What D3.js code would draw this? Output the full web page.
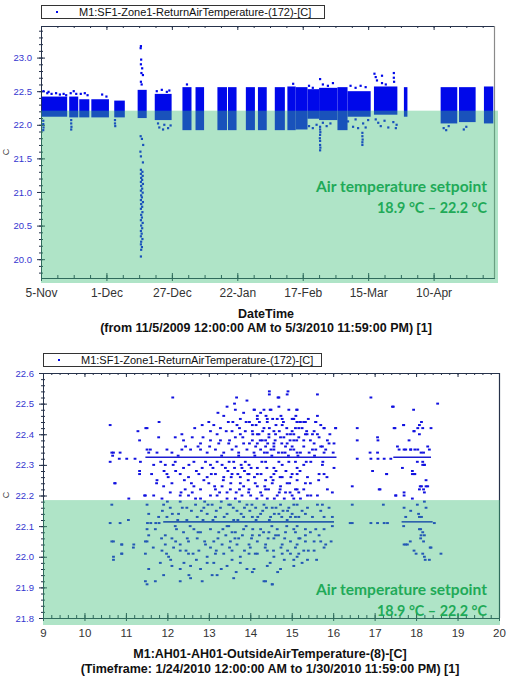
<!DOCTYPE html>
<html><head><meta charset="utf-8">
<script src="https://cdn.jsdelivr.net/npm/d3@7"></script>
<style>body{margin:0;background:#fff}svg{display:block}</style>
</head><body>
<svg id="c" width="519" height="682"></svg>
<script>
// ---------------- DATA ----------------
const legendName = "M1:SF1-Zone1-ReturnAirTemperature-(172)-[C]";
const yAxisName = "C";
const setpointText = ["Air temperature setpoint", "18.9 °C – 22.2 °C"];

// Top panel: time series (x = days since 5-Nov-2009)
const topXTickDays = [0, 26, 52, 78, 104, 130, 156];
const topXTickLabels = ["5-Nov", "1-Dec", "27-Dec", "22-Jan", "17-Feb", "15-Mar", "10-Apr"];
const topYTicks = [20.0, 20.5, 21.0, 21.5, 22.0, 22.5, 23.0];
const topXTitle = "DateTime";
const topXSub = "(from 11/5/2009 12:00:00 AM to 5/3/2010 11:59:00 PM) [1]";
// dense clusters of readings: [startDay, endDay, low, high]
const topBlocks = [
  [0.3, 10.4, 22.12, 22.42], [11.2, 14.8, 22.11, 22.42], [15.2, 19.2, 22.11, 22.38],
  [20.0, 27.0, 22.11, 22.38], [29.1, 33.3, 22.11, 22.36], [38.4, 42.0, 22.10, 22.52],
  [45.2, 51.9, 22.07, 22.46], [56.2, 59.8, 21.92, 22.56], [61.4, 64.8, 21.92, 22.56],
  [70.1, 73.9, 21.92, 22.56], [74.3, 77.7, 21.92, 22.56], [81.4, 85.0, 21.92, 22.56],
  [86.2, 89.7, 21.92, 22.56], [92.9, 96.9, 21.92, 22.56], [97.9, 101.2, 21.92, 22.57],
  [101.2, 105.9, 21.93, 22.56], [105.9, 110.5, 22.09, 22.53], [110.5, 117.8, 22.07, 22.55],
  [117.8, 121.8, 21.92, 22.56], [121.8, 131.0, 22.12, 22.50], [132.3, 141.6, 22.15, 22.57],
  [144.2, 145.6, 22.12, 22.56], [158.8, 165.4, 22.02, 22.56], [166.1, 172.7, 22.04, 22.56],
  [176.0, 179.7, 22.02, 22.57]
];
// individual readings outside the dense clusters: [day, value]
const topPoints = [
  [0.9,22.06],[0.9,22.01],[1.0,21.96],[0.9,21.92],[1.0,22.50],[2.5,22.47],[3.0,22.49],[4.2,22.46],
  [6.0,22.47],[7.5,22.45],[9.0,22.46],[10.0,22.44],[11.8,22.47],[13.0,22.50],[14.0,22.46],
  [12.0,22.07],[12.0,22.02],[12.1,21.97],[12.0,21.93],[15.8,22.46],[17.4,22.47],[18.5,22.44],
  [24.3,22.45],[26.0,22.42],[29.4,22.07],[29.4,22.02],[29.5,21.98],
  [39.7,23.17],[39.6,23.14],[39.8,22.97],[39.7,22.90],[40.2,22.84],[39.9,22.77],[40.5,22.74],
  [39.7,22.64],[40.0,22.60],[39.6,21.83],[40.1,21.79],[40.6,21.70],[39.5,21.60],[39.7,21.53],
  [40.5,21.44],[39.7,21.33],[40.3,21.30],[39.7,21.27],[40.4,21.24],[39.8,21.21],[40.2,21.18],
  [39.7,21.15],[40.5,21.12],[39.8,21.09],[40.2,21.05],[39.7,21.02],[40.4,20.99],[39.8,20.95],
  [40.1,20.92],[39.7,20.88],[40.5,20.85],[39.8,20.82],[40.2,20.78],[39.7,20.75],[40.3,20.70],
  [39.8,20.66],[40.1,20.62],[39.7,20.58],[40.4,20.54],[39.8,20.50],[40.2,20.46],[39.7,20.42],
  [40.0,20.38],[39.7,20.34],[40.3,20.30],[39.8,20.26],[39.7,20.22],[40.1,20.18],[39.8,20.14],
  [39.7,20.04],
  [46.0,22.50],[48.0,22.52],[50.0,22.49],[51.0,22.51],[46.5,22.02],[47.0,21.96],[48.5,21.93],
  [50.5,21.95],[51.5,21.99],[49.0,22.00],[58.0,22.60],[100.2,22.61],
  [110.9,22.68],[110.9,21.97],[110.9,21.93],[111.0,21.89],[110.9,21.85],[110.8,21.80],
  [110.9,21.76],[110.9,21.70],[111.0,21.66],[110.9,21.62],
  [127.7,21.88],[127.7,21.83],[127.8,21.78],[127.7,21.74],[127.7,21.70],
  [132.5,22.76],[133.0,22.71],[133.5,22.66],[135.5,22.73],[135.5,22.62],[140.2,22.77],
  [140.2,22.70],[140.3,22.64],[137.0,22.60],[133.0,22.08],[134.0,22.03],[135.0,21.98],
  [136.5,22.06],[138.0,21.96],[140.0,22.04],[141.0,21.95],[141.3,22.00],
  [123.0,22.58],[125.0,22.55],[127.0,22.58],[129.0,22.56],[122.0,22.05],[124.0,21.97],
  [125.0,22.08],[126.0,21.95],[128.0,22.02],[129.0,21.96],[130.0,22.07],
  [106.5,22.58],[108.0,22.55],[106.5,21.98],[108.0,21.95],[109.5,22.00],
  [112.0,22.60],[114.0,22.58],[116.0,22.62],[112.0,22.03],[113.5,21.98],[115.0,22.02],
  [160.0,21.95],[161.0,21.92],[162.0,21.98],[168.0,21.93],[169.0,21.97]
];

// Bottom panel: scatter vs outside air temperature
const bottomXTicks = [9, 10, 11, 12, 13, 14, 15, 16, 17, 18, 19, 20];
const bottomYTicks = [21.8, 21.9, 22.0, 22.1, 22.2, 22.3, 22.4, 22.5, 22.6];
const bottomXTitle = "M1:AH01-AH01-OutsideAirTemperature-(8)-[C]";
const bottomXSub = "(Timeframe: 1/24/2010 12:00:00 AM to 1/30/2010 11:59:00 PM) [1]";
// runs of many coincident readings: [xStart, xEnd, value]
const bottomRows = [[11.47, 16.08, 22.325], [17.45, 18.36, 22.325], [11.90, 16.02, 22.114], [17.65, 18.40, 22.114]];
const bottomPoints = [
[12.13,22.52],[13.67,22.52],[13.62,22.50],[13.92,22.51],[14.46,22.53],[14.67,22.52],[14.89,22.53],
[13.44,22.49],[13.64,22.48],[14.10,22.48],[14.25,22.47],[14.48,22.48],[14.69,22.49],[13.22,22.47],[13.84,22.47],
[10.62,22.43],[11.80,22.44],[13.00,22.44],[13.36,22.46],[13.47,22.44],[13.76,22.45],[13.98,22.44],[14.17,22.45],[14.41,22.44],[14.74,22.46],[15.04,22.45],[15.13,22.44],
[11.29,22.41],[12.35,22.40],[12.84,22.43],[13.04,22.41],[13.20,22.40],[13.28,22.42],[13.56,22.41],[13.68,22.43],[13.76,22.40],[13.88,22.41],[14.05,22.43],[14.17,22.40],[14.33,22.42],[14.45,22.40],[14.57,22.41],[14.77,22.43],[14.89,22.40],[15.01,22.41],[15.17,22.42],[11.51,22.42],
[11.33,22.38],[11.79,22.39],[12.19,22.39],[12.39,22.38],[12.60,22.39],[12.80,22.37],[13.04,22.38],[13.28,22.38],[13.48,22.37],[13.64,22.39],[13.84,22.37],[14.05,22.38],[14.17,22.37],[14.37,22.38],[14.57,22.37],[14.73,22.39],[14.89,22.37],[15.05,22.38],
[10.70,22.34],[10.86,22.34],[11.59,22.35],[11.75,22.34],[11.99,22.35],[12.11,22.34],[12.35,22.35],[12.56,22.35],[12.80,22.35],[12.96,22.34],[13.16,22.35],[13.36,22.34],[13.56,22.35],[13.72,22.34],[13.92,22.35],[14.09,22.34],[14.25,22.35],[14.41,22.34],[14.57,22.35],[14.77,22.34],[14.97,22.35],[15.13,22.34],
[10.62,22.31],[11.35,22.31],[11.67,22.30],[11.95,22.30],[12.19,22.31],[12.39,22.29],[12.64,22.31],[12.84,22.29],[13.04,22.30],[13.20,22.31],[13.40,22.29],[13.60,22.31],[13.80,22.29],[13.97,22.30],[14.17,22.29],[14.37,22.31],[14.57,22.29],[14.77,22.30],[14.93,22.31],[15.13,22.29],
[11.33,22.27],[11.99,22.27],[12.31,22.27],[12.51,22.26],[12.76,22.27],[12.96,22.26],[13.16,22.27],[13.36,22.26],[13.56,22.27],[13.76,22.26],[13.97,22.27],[14.17,22.27],[14.37,22.25],[14.57,22.27],[14.77,22.26],[15.01,22.27],
[10.73,22.24],[11.75,22.25],[11.91,22.23],[12.11,22.24],[12.43,22.22],[12.64,22.23],[12.80,22.22],[13.00,22.24],[13.16,22.22],[13.32,22.23],[13.52,22.22],[13.76,22.24],[13.84,22.23],[13.97,22.22],[14.17,22.23],[14.37,22.22],[14.53,22.24],[14.73,22.23],[14.89,22.24],[15.13,22.22],
[11.07,22.19],[11.47,22.20],[11.67,22.20],[11.87,22.19],[12.07,22.21],[12.31,22.20],[12.51,22.20],[12.80,22.19],[13.04,22.20],[13.20,22.20],[13.44,22.21],[13.64,22.19],[13.80,22.20],[14.01,22.20],[14.25,22.21],[14.41,22.19],[14.65,22.20],[14.85,22.21],[15.05,22.19],
[10.66,22.17],[11.51,22.17],[11.91,22.17],[12.07,22.16],[12.31,22.18],[12.47,22.16],[12.68,22.17],[12.88,22.16],[13.08,22.17],[13.28,22.16],[13.48,22.17],[13.68,22.15],[13.92,22.17],[14.13,22.16],[14.33,22.17],[14.53,22.16],[14.73,22.17],[14.93,22.16],[15.13,22.17],
[11.55,22.14],[11.79,22.13],[11.99,22.13],[12.27,22.14],[12.47,22.12],[12.72,22.13],[12.96,22.14],[13.16,22.13],[13.44,22.14],[13.60,22.12],[13.84,22.13],[14.05,22.13],[14.25,22.14],[14.49,22.13],[14.69,22.14],[14.89,22.12],[15.09,22.13],
[10.62,22.11],[10.86,22.11],[11.06,22.12],[11.52,22.11],[11.60,22.11],[11.72,22.11],[11.80,22.11],
[11.51,22.09],[11.71,22.09],[11.95,22.07],[12.19,22.10],[12.39,22.08],[12.64,22.09],[12.80,22.08],[13.04,22.09],[13.24,22.08],[13.44,22.10],[13.64,22.08],[13.84,22.09],[14.05,22.07],[14.25,22.09],[14.45,22.08],[14.65,22.09],[14.85,22.08],[15.05,22.09],
[10.70,22.05],[10.90,22.04],[11.19,22.04],[11.51,22.05],[11.95,22.04],[12.11,22.06],[12.31,22.04],[12.51,22.05],[12.72,22.06],[12.92,22.04],[13.12,22.05],[13.32,22.04],[13.52,22.05],[13.72,22.06],[13.97,22.04],[14.17,22.05],[14.37,22.04],[14.57,22.06],[14.77,22.04],[14.97,22.05],[15.17,22.06],
[10.70,22.00],[10.90,22.01],[11.47,22.01],[11.87,22.02],[12.03,22.00],[12.31,22.02],[12.51,22.01],[12.76,22.02],[12.96,22.00],[13.16,22.01],[13.36,22.01],[13.56,22.02],[13.76,22.00],[13.97,22.01],[14.17,22.01],[14.41,22.02],[14.57,22.00],[14.77,22.01],[14.97,22.01],
[11.55,21.96],[11.83,21.98],[12.11,21.97],[12.31,21.96],[12.56,21.97],[12.80,21.96],[13.12,21.98],[13.44,21.97],[13.76,21.98],[14.09,21.96],[14.41,21.97],[14.73,21.96],[15.05,21.97],
[11.47,21.92],[11.51,21.91],[11.71,21.92],[11.91,21.94],[12.31,21.92],[12.56,21.93],[12.84,21.92],[13.20,21.94],[13.60,21.93],[14.05,21.95],[14.37,21.92],[14.53,21.91],
[15.62,22.53],[16.91,22.52],[18.52,22.50],[17.43,22.49],[17.94,22.48],[15.12,22.48],[15.62,22.46],
[15.01,22.45],[15.13,22.44],[15.29,22.44],[15.09,22.42],[15.36,22.41],[15.58,22.44],[15.54,22.41],[15.78,22.42],[15.92,22.40],[16.06,22.42],[16.58,22.42],[17.47,22.42],[17.70,22.43],[17.95,22.41],[18.08,22.43],[18.13,22.44],[18.36,22.42],[15.33,22.40],[15.05,22.40],[15.62,22.40],
[17.83,22.38],[18.08,22.40],[16.58,22.38],[17.08,22.38],[16.02,22.37],[15.12,22.38],[15.29,22.38],[15.54,22.37],[15.74,22.36],[15.82,22.35],
[15.05,22.35],[15.21,22.34],[15.42,22.34],[15.58,22.35],[15.78,22.34],[16.00,22.34],[16.89,22.34],[17.07,22.34],[17.59,22.35],[17.75,22.35],[17.87,22.35],[17.97,22.35],[18.12,22.34],[18.18,22.34],[18.32,22.35],
[16.58,22.32],[16.91,22.32],[17.08,22.32],[17.23,22.32],[17.39,22.32],
[16.95,22.28],[17.67,22.29],[18.03,22.31],[18.16,22.31],[18.20,22.30],[16.02,22.29],[15.09,22.31],[15.29,22.30],[15.46,22.31],[15.74,22.30],
[17.29,22.27],[17.97,22.27],[17.91,22.27],[15.13,22.27],[15.38,22.26],[15.66,22.27],[15.78,22.27],
[16.46,22.23],[17.13,22.22],[17.51,22.20],[17.71,22.21],[18.10,22.23],[18.18,22.22],[18.28,22.23],[18.24,22.25],[15.13,22.25],[15.33,22.24],[15.09,22.22],[15.29,22.22],[15.46,22.20],[15.17,22.21],[15.86,22.22],[15.98,22.21],[15.62,22.20],
[17.91,22.19],[15.01,22.20],[15.21,22.19],[15.38,22.20],
[16.46,22.17],[17.21,22.17],[17.71,22.16],[18.03,22.17],[17.87,22.15],[18.20,22.18],[18.24,22.16],[15.05,22.17],[15.38,22.16],[15.62,22.17],[15.74,22.17],
[17.75,22.13],[18.06,22.14],[18.08,22.13],[18.13,22.13],[15.01,22.14],[15.17,22.13],[15.33,22.14],[15.78,22.13],[15.98,22.13],
[16.41,22.11],[16.46,22.11],[16.91,22.11],[17.07,22.11],[17.23,22.11],[17.31,22.11],[18.44,22.11],
[17.70,22.10],[18.08,22.09],[18.16,22.08],[18.12,22.07],[18.20,22.07],[15.13,22.10],[15.33,22.09],[15.58,22.09],[15.78,22.09],[15.98,22.10],[15.09,22.08],[15.33,22.07],[15.66,22.07],
[17.75,22.04],[17.86,22.05],[18.18,22.05],[18.34,22.03],[17.95,22.02],[18.60,22.01],[15.13,22.04],[15.33,22.05],[15.54,22.05],[15.82,22.04],[15.09,22.03],[15.29,22.02],[15.54,22.02],[15.78,22.03],[15.17,22.01],
[18.20,22.00],[18.32,21.99],[15.13,22.00],[15.38,21.99],[15.25,21.98],[15.05,21.99],
[14.46,22.54],[14.91,22.54],[14.69,22.52],[17.45,22.49],[15.13,22.48],[14.09,22.48],[14.33,22.48],[14.50,22.48],[14.93,22.48],
[14.17,22.46],[14.41,22.45],[14.65,22.45],[14.77,22.45],[15.05,22.45],[15.21,22.44],[15.33,22.44],[15.58,22.44],
[17.49,22.42],[17.70,22.43],[17.95,22.41],[18.04,22.42],[18.16,22.42],[16.06,22.42],[15.78,22.42],
[14.05,22.41],[14.21,22.40],[14.29,22.38],[14.45,22.39],[14.61,22.40],[14.81,22.39],[14.97,22.40],[15.17,22.39],[15.37,22.40],[15.45,22.38],[15.66,22.39],[15.86,22.38],
[14.13,22.36],[14.37,22.36],[14.57,22.36],[14.85,22.36],[15.01,22.36],[15.29,22.36],[15.50,22.35],[15.70,22.36],[15.90,22.37],
[17.07,22.39],[17.55,22.36],[17.71,22.35],[17.87,22.35],[18.04,22.35],[18.28,22.36],
[17.29,22.27],[17.95,22.27],[17.91,22.28],[18.20,22.30],[18.16,22.30],
[17.11,22.22],[18.13,22.23],[18.24,22.23],[18.08,22.22],[17.51,22.20],[17.71,22.20],[18.20,22.21],
[10.66,22.34],[10.68,22.33],[10.84,22.32],[11.02,22.32],[11.22,22.32],[11.48,22.42],[10.74,22.24],[11.33,22.28],[11.45,22.20],[11.51,22.35],[11.55,22.34],
[10.66,22.05],[10.90,22.04],[10.70,21.99],[10.90,22.01],[11.18,22.03],[11.47,22.05],[11.55,22.07],
[14.33,21.92],[14.53,21.91],[18.16,22.01],[18.22,21.99],[17.71,22.04],[17.79,22.04],[18.00,22.01],[18.36,22.03],[18.11,22.09],[18.11,22.06],
[13.10,22.29],[13.31,22.33],[13.49,22.31],[13.72,22.33],[13.88,22.31],[14.11,22.33],[14.28,22.31],[14.52,22.33],[14.69,22.31],[14.92,22.33],
[13.14,22.23],[13.35,22.25],[13.53,22.24],[13.74,22.22],[13.95,22.25],[14.12,22.24],[14.35,22.23],[14.55,22.25],[14.72,22.22],[14.95,22.24],
[13.18,22.15],[13.37,22.13],[13.59,22.16],[13.78,22.14],[13.99,22.15],[14.18,22.13],[14.39,22.16],[14.58,22.14],[14.79,22.15],[14.97,22.13],
[13.22,22.06],[13.41,22.07],[13.63,22.06],[13.81,22.07],[14.03,22.06],[14.22,22.07],[14.43,22.06],[14.61,22.07],[14.83,22.06],
[12.20,22.28],[12.41,22.25],[12.60,22.21],[12.90,22.18],[12.25,22.12],[12.55,22.10],[12.86,22.12],[12.15,22.03],[12.45,22.02],[12.70,21.99],
[11.84,22.31],[11.92,22.28],[12.02,22.26],[12.14,22.30],[12.26,22.33],[12.33,22.21],[12.44,22.36],[12.52,22.30],[12.58,22.24],[11.88,22.15],[12.00,22.18],[12.12,22.14],[12.22,22.09],[12.36,22.16],[12.48,22.06],[12.58,22.15],[11.86,22.06],[11.98,22.01],[12.08,21.99],[12.20,22.05],[12.40,21.98],[12.52,21.94],[11.66,22.03],[11.74,22.24],[11.62,22.27],
[12.66,22.42],[12.74,22.36],[12.86,22.39],[12.92,22.31],[13.02,22.36],[13.12,22.43],[13.24,22.37],[13.32,22.30],[12.70,22.28],[12.88,22.25],[13.06,22.27],[13.26,22.21],[12.68,22.19],[12.82,22.15],[12.98,22.17],[13.10,22.12],[13.30,22.18],[12.74,22.08],[12.90,22.05],[13.04,22.03],[13.18,22.02],[13.34,22.09],[12.62,22.01],[12.96,21.98],[13.30,21.96],[13.08,21.94],
[13.42,22.41],[13.50,22.38],[13.58,22.44],[13.66,22.36],[13.74,22.42],[13.82,22.39],[13.90,22.44],[13.98,22.37],[14.06,22.40],[14.14,22.43],[13.46,22.28],[13.54,22.26],[13.62,22.29],[13.70,22.27],[13.78,22.30],[13.86,22.28],[13.94,22.27],[14.02,22.29],[14.10,22.26],[13.44,22.19],[13.52,22.17],[13.66,22.21],[13.74,22.18],[13.86,22.16],[13.96,22.21],[14.04,22.17],[14.16,22.19],[13.48,22.10],[13.56,22.08],[13.70,22.12],[13.90,22.10],[14.06,22.09],[14.14,22.12],[13.50,22.03],[13.68,22.04],[13.86,22.02],[14.00,22.03],[14.12,22.01],[13.56,21.99],[13.92,21.96],[13.66,21.95],
[14.22,22.44],[14.30,22.41],[14.38,22.46],[14.46,22.42],[14.54,22.45],[14.62,22.43],[14.70,22.41],[14.80,22.44],[14.88,22.42],[14.24,22.38],[14.34,22.34],[14.42,22.37],[14.50,22.35],[14.60,22.38],[14.68,22.34],[14.76,22.37],[14.84,22.34],[14.96,22.38],[14.26,22.27],[14.40,22.29],[14.50,22.26],[14.62,22.28],[14.72,22.26],[14.86,22.28],[14.98,22.26],[14.28,22.20],[14.44,22.22],[14.58,22.19],[14.70,22.21],[14.82,22.19],[14.96,22.21],[14.30,22.15],[14.46,22.12],[14.62,22.16],[14.76,22.13],[14.90,22.15],[14.32,22.08],[14.52,22.10],[14.68,22.07],[14.88,22.10],[14.36,22.03],[14.56,22.02],[14.74,22.03],[14.90,22.02],[14.48,21.98],[14.82,21.99],[14.66,21.95],
[15.10,22.46],[15.25,22.42],[15.40,22.45],[15.50,22.40],[15.70,22.43],[15.15,22.33],[15.35,22.31],[15.55,22.33],[15.75,22.31],[15.20,22.28],[15.45,22.24],[15.65,22.25],[15.85,22.26],[15.25,22.15],[15.50,22.13],[15.70,22.15],[15.90,22.16],[15.20,22.06],[15.45,22.08],[15.70,22.05],[15.40,22.02],[15.60,21.99],[15.95,22.05]
];
// setpoint-band top edge as shaded in each panel
const shadeTop = [22.21, 22.185];

// ---------------- DRAW ----------------
const svg = d3.select("#c");
const FONT = "'Liberation Sans', Arial, sans-serif";
const AX = "#26324a";
const BLUE = "#0008ea";
const SHADE = "rgb(60,190,120)", SHADE_OP = 0.41;
const GREEN_TXT = "#1faa58";

function legend(x, y, w) {
  const g = svg.append("g");
  g.append("rect").attr("x", x + 0.5).attr("y", y + 0.5).attr("width", w).attr("height", 13)
    .attr("fill", "#fff").attr("stroke", "#333");
  g.append("rect").attr("x", x + 15).attr("y", y + 6).attr("width", 2).attr("height", 2).attr("fill", BLUE);
  g.append("text").attr("x", x + 38).attr("y", y + 11).attr("font-family", FONT).attr("font-size", 11)
    .attr("fill", "#111").text(legendName);
}

function axes(P, x, y, xTicks, xFmt, xMinor, yTicks, yFmt, yMinor, xFs, yFs, xPad, yPad, rightColor) {
  const style = g => {
    g.selectAll(".domain").attr("stroke", AX);
    g.selectAll(".tick line").attr("stroke", AX);
  };
  const gl = svg.append("g").attr("transform", `translate(${P.l},0)`);
  gl.call(d3.axisLeft(y).tickValues(yTicks).tickFormat(yFmt).tickSize(4).tickSizeOuter(0).tickPadding(yPad)).call(style);
  gl.selectAll("text").attr("font-family", FONT).attr("font-size", yFs).attr("fill", "#3535d0");
  gl.append("g").call(d3.axisRight(y).tickValues(yTicks).tickFormat("").tickSize(4).tickSizeOuter(0)).call(style);
  gl.append("g").call(d3.axisLeft(y).tickValues(yMinor).tickFormat("").tickSize(2).tickSizeOuter(0)).call(style);
  gl.append("g").call(d3.axisRight(y).tickValues(yMinor).tickFormat("").tickSize(2).tickSizeOuter(0)).call(style);
  const gb = svg.append("g").attr("transform", `translate(0,${P.b})`);
  gb.call(d3.axisBottom(x).tickValues(xTicks).tickFormat(xFmt).tickSize(3).tickSizeOuter(0).tickPadding(xPad)).call(style);
  gb.selectAll("text").attr("font-family", FONT).attr("font-size", xFs).attr("fill", "#333");
  gb.append("g").call(d3.axisTop(x).tickValues(xTicks).tickFormat("").tickSize(5).tickSizeOuter(0)).call(style);
  gb.append("g").call(d3.axisTop(x).tickValues(xMinor).tickFormat("").tickSize(3).tickSizeOuter(0)).call(style);
  gb.append("g").call(d3.axisBottom(x).tickValues(xMinor).tickFormat("").tickSize(1).tickSizeOuter(0)).call(style);
  const gt = svg.append("g").attr("transform", `translate(0,${P.t})`);
  gt.call(d3.axisBottom(x).tickValues(xTicks).tickFormat("").tickSize(4).tickSizeOuter(0)).call(style);
  gt.append("g").call(d3.axisBottom(x).tickValues(xMinor).tickFormat("").tickSize(2).tickSizeOuter(0)).call(style);
  svg.append("line").attr("x1", P.r + 0.5).attr("x2", P.r + 0.5).attr("y1", P.t).attr("y2", P.b)
    .attr("stroke", rightColor).attr("stroke-width", 1.2);
}

function shade(P, yTopPx, extraR, extraB) {
  svg.append("rect").attr("x", P.l).attr("y", yTopPx).attr("width", P.r - P.l + extraR)
    .attr("height", P.b + extraB - yTopPx).attr("fill", SHADE).attr("fill-opacity", SHADE_OP);
}

function note(xRight, y1, y2) {
  const g = svg.append("g").attr("font-family", "Lato, 'Open Sans', sans-serif").attr("font-weight", 700)
    .attr("fill", GREEN_TXT).attr("text-anchor", "end");
  g.append("text").attr("x", xRight).attr("y", y1).attr("font-size", 14.5)
    .attr("textLength", 171).attr("lengthAdjust", "spacingAndGlyphs").text(setpointText[0]);
  g.append("text").attr("x", xRight).attr("y", y2).attr("font-size", 14.5)
    .attr("textLength", 110).attr("lengthAdjust", "spacingAndGlyphs").text(setpointText[1]);
}

function titles(cx, y1, t1, y2, t2) {
  const g = svg.append("g").attr("font-family", FONT).attr("font-weight", "bold").attr("font-size", 12.5)
    .attr("fill", "#111").attr("text-anchor", "middle");
  g.append("text").attr("x", cx).attr("y", y1).text(t1);
  g.append("text").attr("x", cx).attr("y", y2).text(t2);
}

function yName(x, y) {
  svg.append("text").attr("transform", `translate(${x},${y}) rotate(-90)`).attr("text-anchor", "middle")
    .attr("font-family", FONT).attr("font-size", 9).attr("fill", "#444").text(yAxisName);
}

// ---------- TOP PANEL ----------
const T = {l: 41, t: 26, r: 494, b: 278};
const xT = d3.scaleLinear().domain([0, 180]).range([T.l, T.r]);
const yT = d3.scaleLinear().domain([19.72, 23.47]).range([T.b, T.t]);

legend(41, 5, 283);
axes(T, xT, yT, topXTickDays, (d, i) => topXTickLabels[i], d3.range(0, 180, 6.5),
     topYTicks, d3.format(".1f"), d3.range(19.8, 23.45, 0.1), 12, 9.5, 7, 5, "#8a8a8a");

svg.append("clipPath").attr("id", "clipT").append("rect")
  .attr("x", T.l).attr("y", T.t).attr("width", T.r - T.l).attr("height", T.b - T.t);
const dT = svg.append("g").attr("clip-path", "url(#clipT)");
dT.selectAll("rect.blk").data(topBlocks).join("rect").attr("class", "blk")
  .attr("x", d => xT(d[0])).attr("width", d => xT(d[1]) - xT(d[0]))
  .attr("y", d => yT(d[3])).attr("height", d => yT(d[2]) - yT(d[3])).attr("fill", BLUE);
dT.selectAll("rect.pt").data(topPoints).join("rect").attr("class", "pt")
  .attr("x", d => xT(d[0]) - 1.1).attr("y", d => yT(d[1]) - 1.1).attr("width", 2.2).attr("height", 2.2)
  .attr("fill", BLUE);

shade(T, yT(shadeTop[0]), 4, 5);
note(487, 191.5, 212.5);
yName(9, 152);
titles(266, 318, topXTitle, 332, topXSub);

// ---------- BOTTOM PANEL ----------
const B = {l: 43, t: 373, r: 499, b: 618};
const xB = d3.scaleLinear().domain([9, 20]).range([B.l, B.r]);
const yB = d3.scaleLinear().domain([21.8, 22.6]).range([B.b, B.t]);

legend(43, 353, 278);
axes(B, xB, yB, bottomXTicks, d3.format("d"), d3.range(9, 20.01, 0.2),
     bottomYTicks, d3.format(".1f"), d3.range(21.8, 22.601, 0.02), 11.5, 9.5, 8, 5, AX);

const dB = svg.append("g");
dB.selectAll("line.row").data(bottomRows).join("line").attr("class", "row")
  .attr("x1", d => xB(d[0])).attr("x2", d => xB(d[1])).attr("y1", d => yB(d[2])).attr("y2", d => yB(d[2]))
  .attr("stroke", "#1c1cd0").attr("stroke-width", 1.6);
dB.selectAll("rect.pt").data(bottomPoints).join("rect").attr("class", "pt")
  .attr("x", d => xB(d[0]) - 1.4).attr("y", d => yB(d[1]) - 1).attr("width", 2.8).attr("height", 2)
  .attr("fill", "#1212e0");

shade(B, yB(shadeTop[1]), 1, 7);
note(487, 595, 616);
yName(9, 495);
titles(270, 658, bottomXTitle, 673, bottomXSub);
</script>
</body></html>
